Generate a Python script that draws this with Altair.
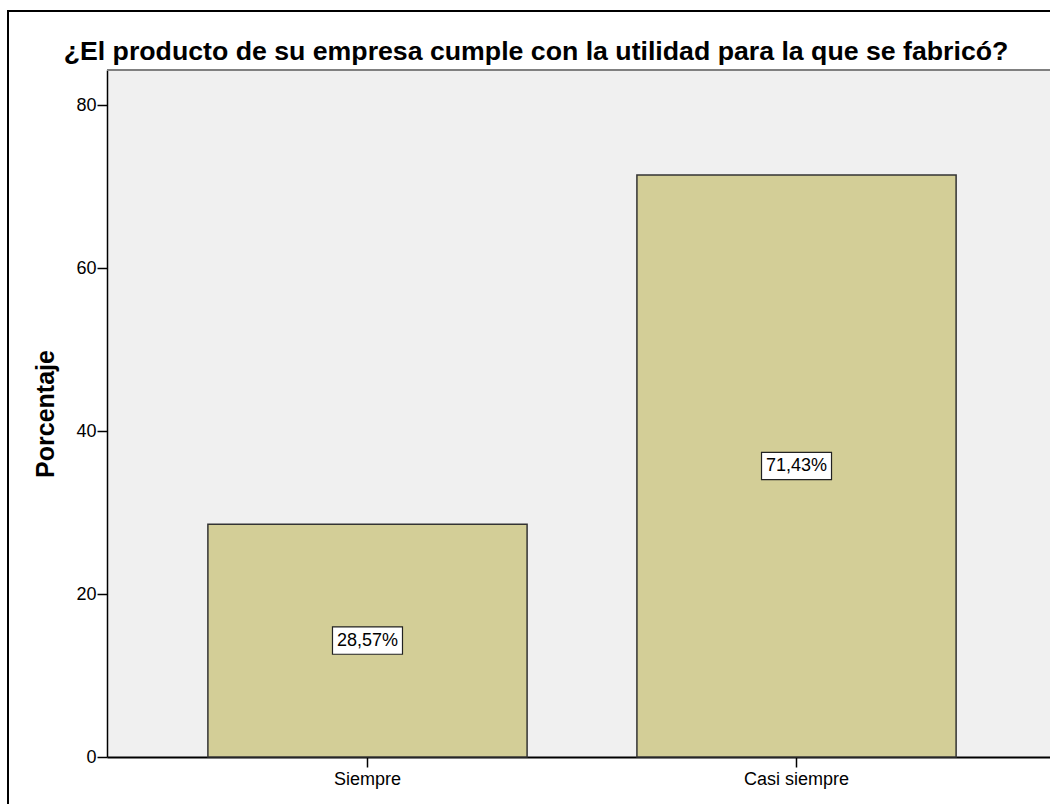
import altair as alt
import pandas as pd

categories = ["Siempre", "Casi siempre"]
values = [28.57, 71.43]
labels = ["28,57%", "71,43%"]
title_text = "¿El producto de su empresa cumple con la utilidad para la que se fabricó?"
y_ticks = [0, 20, 40, 60, 80]

df = pd.DataFrame({"cat": categories, "val": values, "lab": labels})

FONT = "Liberation Sans"
W, H = 943, 687

x_enc = alt.X("cat:N", sort=categories,
              scale=alt.Scale(paddingInner=0.256, paddingOuter=0.227, align=0.518),
              axis=alt.Axis(title=None, labelAngle=0, labelFontSize=18, labelFont=FONT,
                            labelColor="black", tickSize=10, tickColor="black", tickWidth=1.5,
                            domainColor="black", domainWidth=2, labelPadding=3))
y_scale = alt.Scale(domain=[0, 84.3], nice=False, zero=True)

one = pd.DataFrame({"a": [0]})

top_line = alt.Chart(one).mark_rule(color="#808080", strokeWidth=2).encode(
    x=alt.value(0), x2=alt.value(W + 50), y=alt.value(0))

bars = alt.Chart(df).mark_bar(color="#d3ce97", stroke="#333333", strokeWidth=1.5).encode(
    x=x_enc,
    y=alt.Y("val:Q", scale=y_scale,
            axis=alt.Axis(values=y_ticks, grid=False, labelFontSize=18, labelFont=FONT,
                          labelColor="black", tickSize=10, tickColor="black", tickWidth=1.5,
                          domainColor="black", domainWidth=1.5, labelPadding=1,
                          title="Porcentaje", titleFont=FONT, titleFontSize=25,
                          titleFontWeight="bold", titleColor="black", titleAngle=270,
                          titleBaseline="middle", titleAlign="center",
                          titleX=-62, titleY=H / 2)),
)

boxes = alt.Chart(df).transform_calculate(mid="datum.val / 2").mark_point(
    shape="M-1,-0.39L1,-0.39L1,0.39L-1,0.39Z", size=4900, filled=True,
    fill="white", stroke="#222222", strokeWidth=1.2, opacity=1
).encode(
    x=alt.X("cat:N", sort=categories),
    y=alt.Y("mid:Q", scale=y_scale),
)

texts = alt.Chart(df).transform_calculate(mid="datum.val / 2").mark_text(
    font=FONT, fontSize=18, color="black", baseline="middle", align="center"
).encode(
    x=alt.X("cat:N", sort=categories),
    y=alt.Y("mid:Q", scale=y_scale),
    text="lab:N",
)

title = alt.Chart(pd.DataFrame({"t": [title_text]})).mark_text(
    font=FONT, fontSize=26.7, fontWeight="bold", color="black",
    baseline="alphabetic", align="center"
).encode(text="t:N", x=alt.value(429), y=alt.value(-10))

frame_top = alt.Chart(one).mark_rule(color="black", strokeWidth=2).encode(
    x=alt.value(-99), x2=alt.value(W + 300), y=alt.value(-59))
frame_left = alt.Chart(one).mark_rule(color="black", strokeWidth=2).encode(
    x=alt.value(-99), y=alt.value(-60), y2=alt.value(H + 300))

chart = alt.layer(top_line, bars, boxes, texts, title, frame_top, frame_left).properties(
    width=W, height=H,
    padding={"left": 107, "top": 70, "right": 0, "bottom": 47},
    autosize="none",
).configure(background="white").configure_view(fill="#f0f0f0", strokeWidth=0)

chart.save("out.html", embed_options={"renderer": "svg", "actions": False})
